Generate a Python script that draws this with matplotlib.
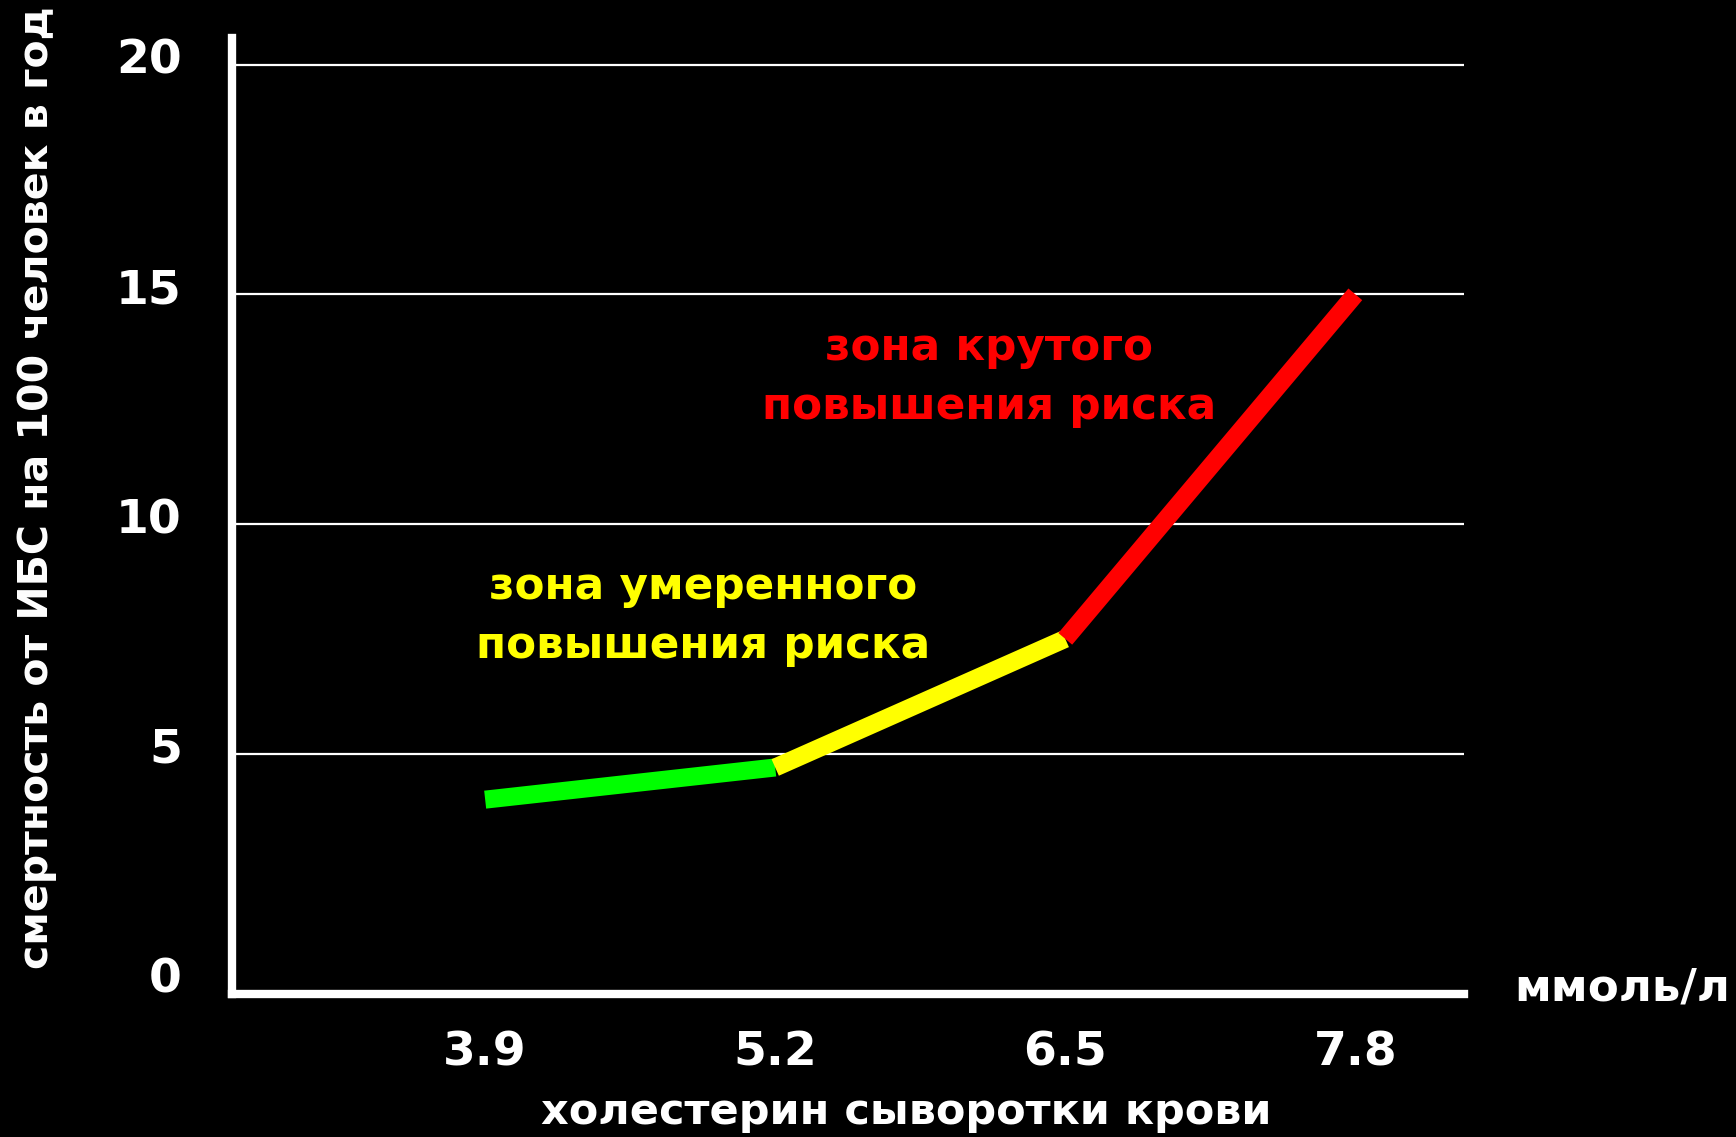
import matplotlib.pyplot as plt
from matplotlib.transforms import ScaledTranslation

# cholesterol levels (mmol/l) and CHD deaths per 100 people per year
cholesterol = [3.9, 5.2, 6.5, 7.8]
mortality = [4.0, 4.7, 7.5, 15.0]
segment_colors = ['#00ff00', '#ffff00', '#ff0000']

y_ticks = [0, 5, 10, 15, 20]
x_tick_labels = ['3.9', '5.2', '6.5', '7.8']

plt.rcParams['font.family'] = ['DejaVu Sans']
plt.rcParams['font.weight'] = 'bold'

fig = plt.figure(figsize=(17.36, 11.37), dpi=100, facecolor='black')
ax = fig.add_axes([0.1336, 0.1258, 0.7097, 0.8408], facecolor='black')

# horizontal grid
for y in y_ticks[1:]:
    ax.axhline(y, color='white', lw=1.6, zorder=1)

# each zone of the curve gets its own colour
for i, c in enumerate(segment_colors):
    ax.plot(cholesterol[i:i + 2], mortality[i:i + 2], color=c, lw=13,
            solid_capstyle='butt', zorder=3 + i)

ax.set_xlim(2.765, 8.287)
ax.set_ylim(-0.23, 20.58)

ax.set_xticks(cholesterol)
ax.set_xticklabels(x_tick_labels)
ax.set_yticks(y_ticks)
ax.tick_params(axis='both', length=0, colors='white', labelsize=34)
ax.tick_params(axis='x', pad=26)
ax.tick_params(axis='y', pad=36)

# numbers on the y axis sit a little above their grid lines
lift = ScaledTranslation(0, 6 / 72, fig.dpi_scale_trans)
for lbl in ax.get_yticklabels():
    lbl.set_transform(lbl.get_transform() + lift)

for side in ['top', 'right']:
    ax.spines[side].set_visible(False)
for side in ['left', 'bottom']:
    ax.spines[side].set_color('white')
    ax.spines[side].set_linewidth(6)

ax.set_xlabel('холестерин сыворотки крови', color='white', fontsize=31,
              fontweight='bold', va='center')
ax.xaxis.set_label_coords(0.547, -0.123)
ax.set_ylabel('смертность от ИБС на 100 человек в год', color='white',
              fontsize=29.5, fontweight='bold', va='center')
ax.yaxis.set_label_coords(-0.158, 0.53)

fig.text(1514 / 1736, 1 - 1000 / 1137, 'ммоль/л', color='white', fontsize=32.5,
         fontweight='bold', ha='left', va='baseline')

ax.text(4.876, 8.0, 'зона умеренного\nповышения риска', color='#ffff00',
        fontsize=31.5, fontweight='bold', ha='center', va='center',
        linespacing=1.45)
ax.text(6.16, 13.2, 'зона крутого\nповышения риска', color='#ff0000',
        fontsize=31.5, fontweight='bold', ha='center', va='center',
        linespacing=1.45)

fig.savefig('out.png', dpi=100, facecolor='black')
